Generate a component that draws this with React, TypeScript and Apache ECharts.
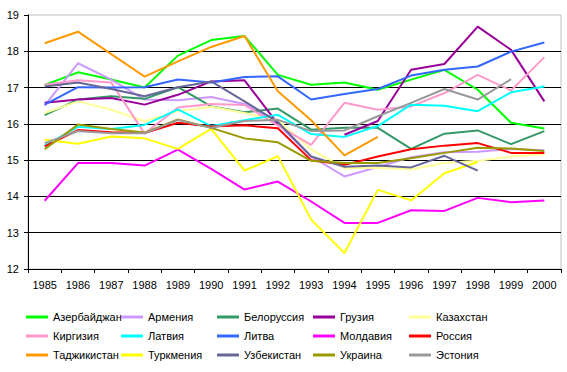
import React, { useEffect, useRef } from "react";
import * as echarts from "echarts";

const years = ["1985","1986","1987","1988","1989","1990","1991","1992","1993","1994","1995","1996","1997","1998","1999","2000"];
const yTicks = { min: 12, max: 19, interval: 1 };

const names = ["Азербайджан","Армения","Белоруссия","Грузия","Казахстан","Киргизия","Латвия","Литва","Молдавия","Россия","Таджикистан","Туркмения","Узбекистан","Украина","Эстония"];
const colors = ["#00ff00","#cc99ff","#339966","#990099","#ffff99","#ff99cc","#00ffff","#3366ff","#ff00ff","#ff0000","#ff9900","#ffff00","#666699","#999900","#999999"];

const azerbaijan = [17.07, 17.42, 17.22, 17.0, 17.88, 18.31, 18.42, 17.35, 17.08, 17.14, 16.94, 17.22, 17.49, 16.94, 16.03, 15.87];
const armenia = [16.5, 17.67, 17.22, 16.67, 16.65, 16.74, 16.55, 16.0, 15.1, 14.55, 14.81, 15.08, 15.22, 15.23, 15.31, 15.27];
const belarus = [16.24, 16.67, 16.76, 16.69, 17.01, 16.48, 16.32, 16.42, 15.84, 15.89, 15.89, 15.31, 15.73, 15.82, 15.44, 15.8];
const georgia = [16.58, 16.67, 16.71, 16.53, 16.8, 17.17, 17.2, 16.0, null, 15.7, 16.08, 17.49, 17.65, 18.68, 18.04, 16.62];
const kazakhstan = [16.3, 16.62, 16.39, 16.07, 16.35, 16.47, 16.3, 16.1, 15.3, 14.78, 14.79, 14.74, 14.92, 14.98, 15.1, 15.16];
const kirgizia = [17.08, 17.2, 17.14, 15.73, 16.45, 16.55, 16.52, 15.95, 15.42, 16.58, 16.39, 16.48, 16.85, 17.35, 16.92, 17.84];
const latvia = [15.4, 15.92, 15.86, 15.97, 16.4, 15.94, 16.1, 16.25, 15.72, 15.64, 15.94, 16.53, 16.5, 16.35, 16.87, 17.03];
const lithuania = [16.53, 17.01, 17.0, 17.01, 17.22, 17.14, 17.29, 17.31, 16.67, 16.82, 16.96, 17.33, 17.49, 17.58, 17.99, 18.24];
const moldova = [13.88, 14.92, 14.92, 14.85, 15.29, 14.76, 14.19, 14.41, 13.86, 13.27, 13.27, 13.62, 13.6, 13.96, 13.84, 13.89];
const russia = [15.38, 15.83, 15.77, 15.75, 16.03, 15.93, 15.96, 15.88, 15.0, 14.87, 15.1, 15.3, 15.4, 15.47, 15.2, 15.2];
const tajikistan = [18.22, 18.54, 17.92, 17.3, 17.72, 18.12, 18.42, 16.9, 16.1, 15.13, 15.64, null, null, null, null, null];
const turkmenia = [15.56, 15.45, 15.65, 15.6, 15.31, 15.86, 14.71, 15.11, 13.36, 12.44, 14.18, 13.89, 14.64, 14.95, null, null];
const uzbekistan = [17.03, 17.14, 16.96, 16.76, 17.01, 17.17, 16.62, 16.05, 15.1, 14.82, 14.85, 14.8, 15.12, 14.71, null, null];
const ukraine = [15.3, 15.98, 15.86, 15.76, 16.12, 15.89, 15.6, 15.49, 14.98, 14.92, 14.92, 15.05, 15.2, 15.34, 15.32, 15.25];
const estonia = [15.47, 15.8, 15.74, 15.74, 16.11, 15.89, 16.08, 16.11, 15.8, 15.82, 16.21, 16.58, 16.96, 16.67, 17.23, null];

const seriesValues = [azerbaijan, armenia, belarus, georgia, kazakhstan, kirgizia, latvia, lithuania, moldova, russia, tajikistan, turkmenia, uzbekistan, ukraine, estonia];

const FONT = "'Liberation Sans', Arial, sans-serif";

export default function App() {
  const ref = useRef<HTMLDivElement>(null);
  useEffect(() => {
    document.body.style.margin = "0";
    const chart = echarts.init(ref.current!, null, { renderer: "svg" });
    const legendLefts = [26, 121, 217, 313, 409];
    const legends = legendLefts.map((left, c) => ({
      orient: "vertical" as const,
      left,
      top: 310,
      padding: 0,
      itemGap: 5,
      itemWidth: 22,
      itemHeight: 3,
      icon: "rect",
      selectedMode: false,
      textStyle: { fontFamily: FONT, fontSize: 11, color: "#000", lineHeight: 14, padding: [0, 0, 0, 0] },
      data: [names[c], names[c + 5], names[c + 10]],
    }));
    chart.setOption({
      animation: false,
      backgroundColor: "#fff",
      grid: { left: 28, right: 6, top: 15, bottom: 103, show: true, borderColor: "#c0c0c0", borderWidth: 1 },
      legend: legends,
      xAxis: {
        type: "category",
        data: years,
        boundaryGap: true,
        axisLine: { lineStyle: { color: "#000", width: 1 } },
        axisTick: { show: true, length: 4, lineStyle: { color: "#000" }, interval: 0 },
        axisLabel: { interval: 0, margin: 10, fontFamily: FONT, fontSize: 11, color: "#000" },
      },
      yAxis: {
        type: "value",
        min: yTicks.min,
        max: yTicks.max,
        interval: yTicks.interval,
        axisLine: { show: true, lineStyle: { color: "#000", width: 1 } },
        axisTick: { show: true, length: 4, lineStyle: { color: "#000" } },
        axisLabel: { margin: 9, fontFamily: FONT, fontSize: 11, color: "#000" },
        splitLine: { show: true, showMinLine: false, showMaxLine: false, lineStyle: { color: "#000", width: 1 } },
      },
      series: names.map((name, i) => ({
        name,
        type: "line",
        data: seriesValues[i],
        color: colors[i],
        showSymbol: false,
        symbol: "none",
        connectNulls: false,
        lineStyle: { width: 2, color: colors[i] },
      })),
    });
    return () => chart.dispose();
  }, []);
  return <div ref={ref} style={{ width: 567, height: 372 }} />;
}
